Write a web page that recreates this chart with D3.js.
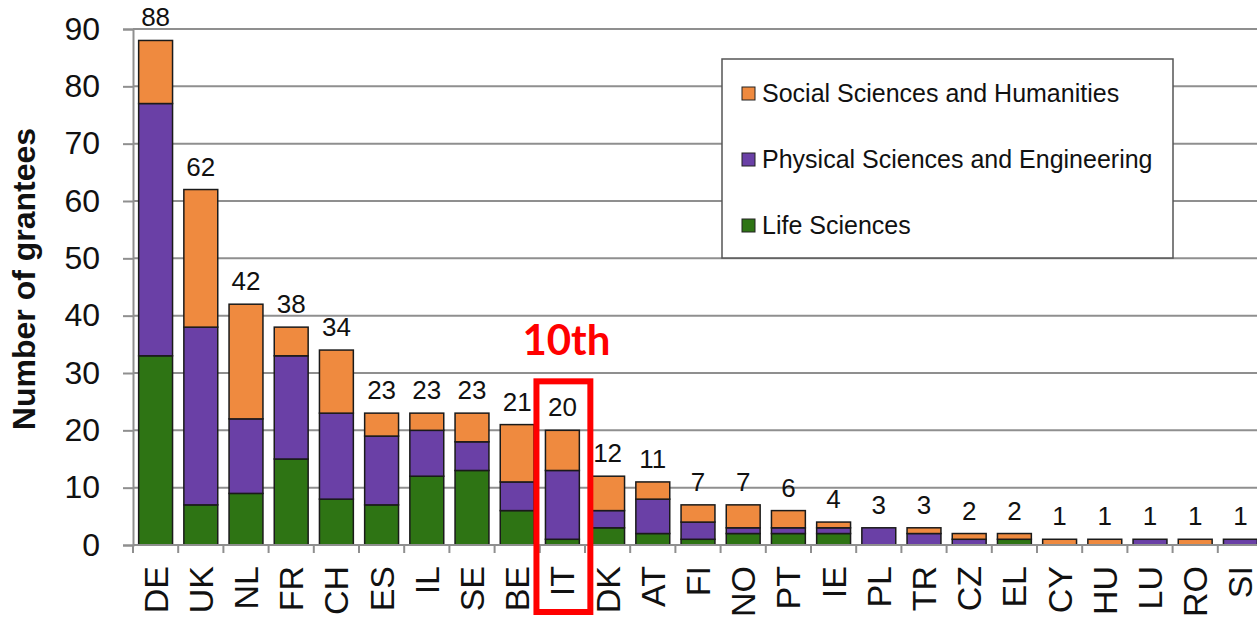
<!DOCTYPE html>
<html>
<head>
<meta charset="utf-8">
<script src="https://cdn.jsdelivr.net/npm/d3@7"></script>
<style>
  body { margin: 0; background: #fff; }
  svg { display: block; font-family: "Liberation Sans", Arial, sans-serif; }
</style>
</head>
<body>
<svg id="chart" width="1257" height="617"></svg>
<script>
// Grantees per country, split by domain
const countries = ["DE","UK","NL","FR","CH","ES","IL","SE","BE","IT","DK","AT","FI","NO","PT","IE","PL","TR","CZ","EL","CY","HU","LU","RO","SI"];
const lifeSciences     = [33, 7,  9, 15,  8,  7, 12, 13,  6,  1, 3, 2, 1, 2, 2, 2, 0, 0, 0, 1, 0, 0, 0, 0, 0];
const physicalSciences = [44, 31, 13, 18, 15, 12,  8,  5,  5, 12, 3, 6, 3, 1, 1, 1, 3, 2, 1, 0, 0, 0, 1, 0, 1];
const socialSciences   = [11, 24, 20,  5, 11,  4,  3,  5, 10,  7, 6, 3, 3, 4, 3, 1, 0, 1, 1, 1, 1, 1, 0, 1, 0];
const yTicks = [0, 10, 20, 30, 40, 50, 60, 70, 80, 90];
const highlighted = "IT";

const series = [
  { key: "social", label: "Social Sciences and Humanities", color: "#EF8A3F" },
  { key: "physical", label: "Physical Sciences and Engineering", color: "#6A40A6" },
  { key: "life", label: "Life Sciences", color: "#2E7414" }
];
const colorOf = Object.fromEntries(series.map(s => [s.key, s.color]));

const rows = countries.map((c, i) => ({
  country: c,
  life: lifeSciences[i],
  physical: physicalSciences[i],
  social: socialSciences[i],
  total: lifeSciences[i] + physicalSciences[i] + socialSciences[i]
}));

const svg = d3.select("#chart");
const margin = { top: 29, left: 133, bottom: 72 };
const step = 45.2;
const width = step * countries.length;   // runs a bit past the right edge, as in the source
const height = 617 - margin.top - margin.bottom;

const g = svg.append("g").attr("transform", `translate(${margin.left},${margin.top})`);

const x = d3.scaleBand().domain(countries).range([0, width]).paddingInner(0.25).paddingOuter(0.125);
const y = d3.scaleLinear().domain([0, 90]).range([height, 0]);

// gridlines
g.selectAll("line.grid")
  .data(yTicks.filter(d => d > 0))
  .enter().append("line")
  .attr("class", "grid")
  .attr("x1", 0).attr("x2", width)
  .attr("y1", d => y(d)).attr("y2", d => y(d))
  .attr("stroke", "#8f8f8f").attr("stroke-width", 2);

// legend box sits over the grid
const legend = svg.append("g").attr("transform", "translate(722,59)");
legend.append("rect")
  .attr("width", 451).attr("height", 199)
  .attr("fill", "#fff").attr("stroke", "#555").attr("stroke-width", 1.5);
series.forEach((s, i) => {
  const ly = 34 + i * 66;
  legend.append("rect")
    .attr("x", 20).attr("y", ly - 6).attr("width", 13).attr("height", 13)
    .attr("fill", s.color).attr("stroke", "#222").attr("stroke-width", 1);
  legend.append("text")
    .attr("x", 40).attr("y", ly).attr("dy", "0.35em")
    .attr("font-size", 25).attr("fill", "#111")
    .text(s.label);
});

// stacked bars
const stack = d3.stack().keys(["life", "physical", "social"]);
const layers = stack(rows);

g.selectAll("g.layer")
  .data(layers)
  .enter().append("g")
  .attr("class", "layer")
  .attr("fill", d => colorOf[d.key])
  .selectAll("rect")
  .data(d => d.filter(p => p[1] > p[0]))
  .enter().append("rect")
  .attr("x", d => x(d.data.country))
  .attr("width", x.bandwidth())
  .attr("y", d => y(d[1]))
  .attr("height", d => y(d[0]) - y(d[1]))
  .attr("stroke", "#1a1a1a").attr("stroke-width", 1.5);

// totals above bars
g.selectAll("text.total")
  .data(rows)
  .enter().append("text")
  .attr("class", "total")
  .attr("x", d => x(d.country) + x.bandwidth() / 2)
  .attr("y", d => y(d.total) - 14)
  .attr("text-anchor", "middle")
  .attr("font-size", 26).attr("fill", "#111")
  .text(d => d.total);

// y axis
const yAxis = g.append("g").call(d3.axisLeft(y).tickValues(yTicks).tickSize(10).tickPadding(23));
yAxis.select(".domain").attr("stroke", "#8f8f8f").attr("stroke-width", 2);
yAxis.selectAll(".tick line").attr("stroke", "#8f8f8f").attr("stroke-width", 2);
yAxis.selectAll(".tick text").attr("font-size", 32).attr("fill", "#111")
  .attr("font-family", "Liberation Sans, Arial, sans-serif");

// x axis: ticks between categories
const xAxisG = g.append("g").attr("transform", `translate(0,${height})`);
xAxisG.append("line")
  .attr("x1", 0).attr("x2", width)
  .attr("stroke", "#8f8f8f").attr("stroke-width", 2);
xAxisG.selectAll("line.sep")
  .data(d3.range(countries.length + 1))
  .enter().append("line")
  .attr("class", "sep")
  .attr("x1", i => i * x.step()).attr("x2", i => i * x.step())
  .attr("y1", 0).attr("y2", 8)
  .attr("stroke", "#8f8f8f").attr("stroke-width", 2);
xAxisG.selectAll("text")
  .data(countries)
  .enter().append("text")
  .attr("transform", d => `translate(${x(d) + x.bandwidth() / 2},21) rotate(-90)`)
  .attr("text-anchor", "end")
  .attr("dy", "0.35em")
  .attr("font-size", 34).attr("fill", "#111")
  .text(d => d);

// y axis title
svg.append("text")
  .attr("transform", "translate(24,279) rotate(-90)")
  .attr("text-anchor", "middle")
  .attr("dy", "0.35em")
  .attr("font-size", 32).attr("font-weight", "bold").attr("fill", "#111")
  .text("Number of grantees");

// highlight frame around Italy
const hi = rows.find(r => r.country === highlighted);
const hx = x(highlighted);
g.append("rect")
  .attr("x", hx - 9)
  .attr("y", y(hi.total) - 49)
  .attr("width", x.bandwidth() + 20)
  .attr("height", height - y(hi.total) + 49 + 67)
  .attr("fill", "none").attr("stroke", "#FF0000").attr("stroke-width", 6);
g.append("text")
  .attr("x", hx + x.bandwidth() / 2 + 4)
  .attr("y", y(hi.total) - 75)
  .attr("text-anchor", "middle")
  .attr("font-family", "Lato, 'Open Sans', sans-serif")
  .attr("font-weight", "bold").attr("font-size", 42).attr("fill", "#FF0000")
  .text("10th");
</script>
</body>
</html>
